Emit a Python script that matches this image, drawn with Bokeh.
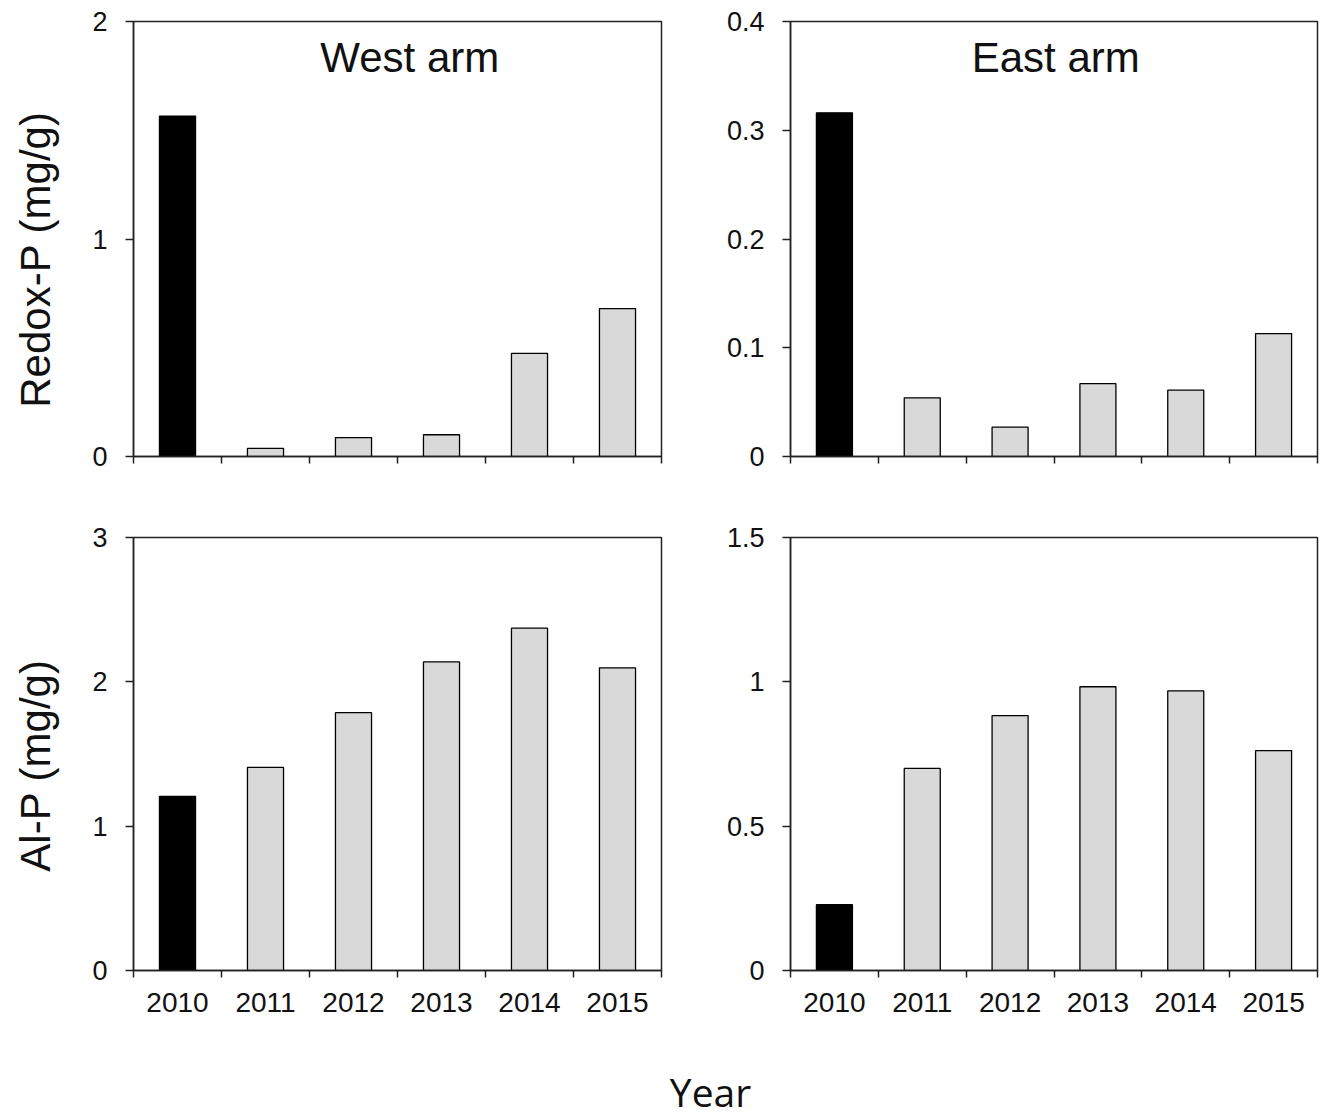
import math
from bokeh.plotting import figure
from bokeh.layouts import column, row
from bokeh.models import Range1d, FixedTicker, CustomJSTickFormatter, Label
from bokeh.embed import file_html
from bokeh.resources import INLINE
from bokeh.core.properties import value

years = ["2010", "2011", "2012", "2013", "2014", "2015"]
west_redox = [1.565, 0.037, 0.087, 0.100, 0.474, 0.680]
east_redox = [0.316, 0.054, 0.027, 0.067, 0.061, 0.113]
west_al = [1.207, 1.407, 1.786, 2.138, 2.372, 2.097]
east_al = [0.228, 0.700, 0.883, 0.983, 0.969, 0.762]
west_redox_ticks = [0, 1, 2]
east_redox_ticks = [0, 0.1, 0.2, 0.3, 0.4]
west_al_ticks = [0, 1, 2, 3]
east_al_ticks = [0, 0.5, 1, 1.5]
bar_colors = ["black"] + ["#d9d9d9"] * 5
row_labels = ["Redox-P (mg/g)", "Al-P (mg/g)"]

FONT = "Liberation Sans"
AX = "#222222"
TXT = "#111111"
LW = 70  # width of the left label strip


def panel(vals, yticks, width, height, bl, br, bt, bb, show_x, title=None, title_pos=None):
    centers = [i + 0.5 for i in range(len(years))]
    p = figure(width=width, height=height, output_backend="svg", toolbar_location=None,
               x_range=Range1d(0, len(years)), y_range=Range1d(0, yticks[-1]),
               min_border_left=bl, min_border_right=br, min_border_top=bt, min_border_bottom=bb)
    p.vbar(x=centers, top=vals, width=0.41, bottom=0, fill_color=bar_colors,
           line_color="black", line_width=1.3)
    p.xgrid.visible = False
    p.ygrid.visible = False
    p.outline_line_color = AX
    p.outline_line_width = 1.5
    p.background_fill_color = "white"
    p.border_fill_color = "white"

    xa = p.xaxis[0]
    bounds = list(range(len(years) + 1))
    if show_x:
        xa.ticker = FixedTicker(ticks=centers, minor_ticks=bounds)
        xa.formatter = CustomJSTickFormatter(args=dict(years=years),
                                             code="return years[Math.floor(tick)];")
        xa.major_label_text_font = FONT
        xa.major_label_text_font_size = "28px"
        xa.major_label_text_color = TXT
        xa.major_label_standoff = 15
    else:
        xa.ticker = FixedTicker(ticks=[], minor_ticks=bounds)
    xa.major_tick_out = 0
    xa.major_tick_in = 0
    xa.minor_tick_out = 7
    xa.minor_tick_in = 0
    xa.minor_tick_line_color = AX
    xa.minor_tick_line_width = 1.5
    xa.axis_line_color = AX
    xa.axis_line_width = 1.5

    ya = p.yaxis[0]
    ya.ticker = FixedTicker(ticks=yticks, minor_ticks=[])
    ya.formatter = CustomJSTickFormatter(code="return String(Math.round(tick*100)/100);")
    ya.major_tick_out = 8
    ya.major_tick_in = 0
    ya.major_tick_line_color = AX
    ya.major_tick_line_width = 1.5
    ya.axis_line_color = AX
    ya.axis_line_width = 1.5
    ya.major_label_text_font = FONT
    ya.major_label_text_font_size = "27px"
    ya.major_label_text_color = TXT
    ya.major_label_standoff = 18
    if title:
        p.add_layout(Label(x=title_pos[0], y=title_pos[1], text=title, text_align="center",
                           text_baseline="middle", text_font=FONT,
                           text_font_size="42px", text_color=TXT))
    return p


p1 = panel(west_redox, west_redox_ticks, 670 - LW, 476, 133 - LW, 9, 21, 20, False,
           title="West arm", title_pos=(3.14, 1.834))
p2 = panel(east_redox, east_redox_ticks, 651, 476, 120, 4, 21, 20, False,
           title="East arm", title_pos=(3.02, 0.367))
p3 = panel(west_al, west_al_ticks, 670 - LW, 546, 133 - LW, 9, 59, 52, True)
p4 = panel(east_al, east_al_ticks, 651, 546, 120, 4, 61, 50, True)

# left strip holding the two rotated row labels (coordinates in pixels from the bottom)
H = 476 + 546
pl = figure(width=LW, height=H, output_backend="svg", toolbar_location=None,
            x_range=Range1d(0, LW), y_range=Range1d(0, H), min_border=0)
pl.axis.visible = False
pl.grid.visible = False
pl.outline_line_color = None
pl.text(x=[35, 35], y=[H - 259, H - 765], text=row_labels, angle=math.pi / 2,
        text_align="center", text_baseline="middle", text_font=value(FONT),
        text_font_size="42px", text_color=TXT)

YH = 96
py = figure(width=1321, height=YH, output_backend="svg", toolbar_location=None,
            x_range=Range1d(0, 1), y_range=Range1d(0, 1), min_border=0)
py.axis.visible = False
py.grid.visible = False
py.outline_line_color = None
py.text(x=[710 / 1321], y=[27 / YH], text=["Year"], text_align="center", text_baseline="middle",
        text_font=value("Open Sans"), text_font_size="39px", text_color=TXT)

layout = column(row(pl, column(row(p1, p2), row(p3, p4))), py)
open("out.html", "w").write(file_html(layout, INLINE))
